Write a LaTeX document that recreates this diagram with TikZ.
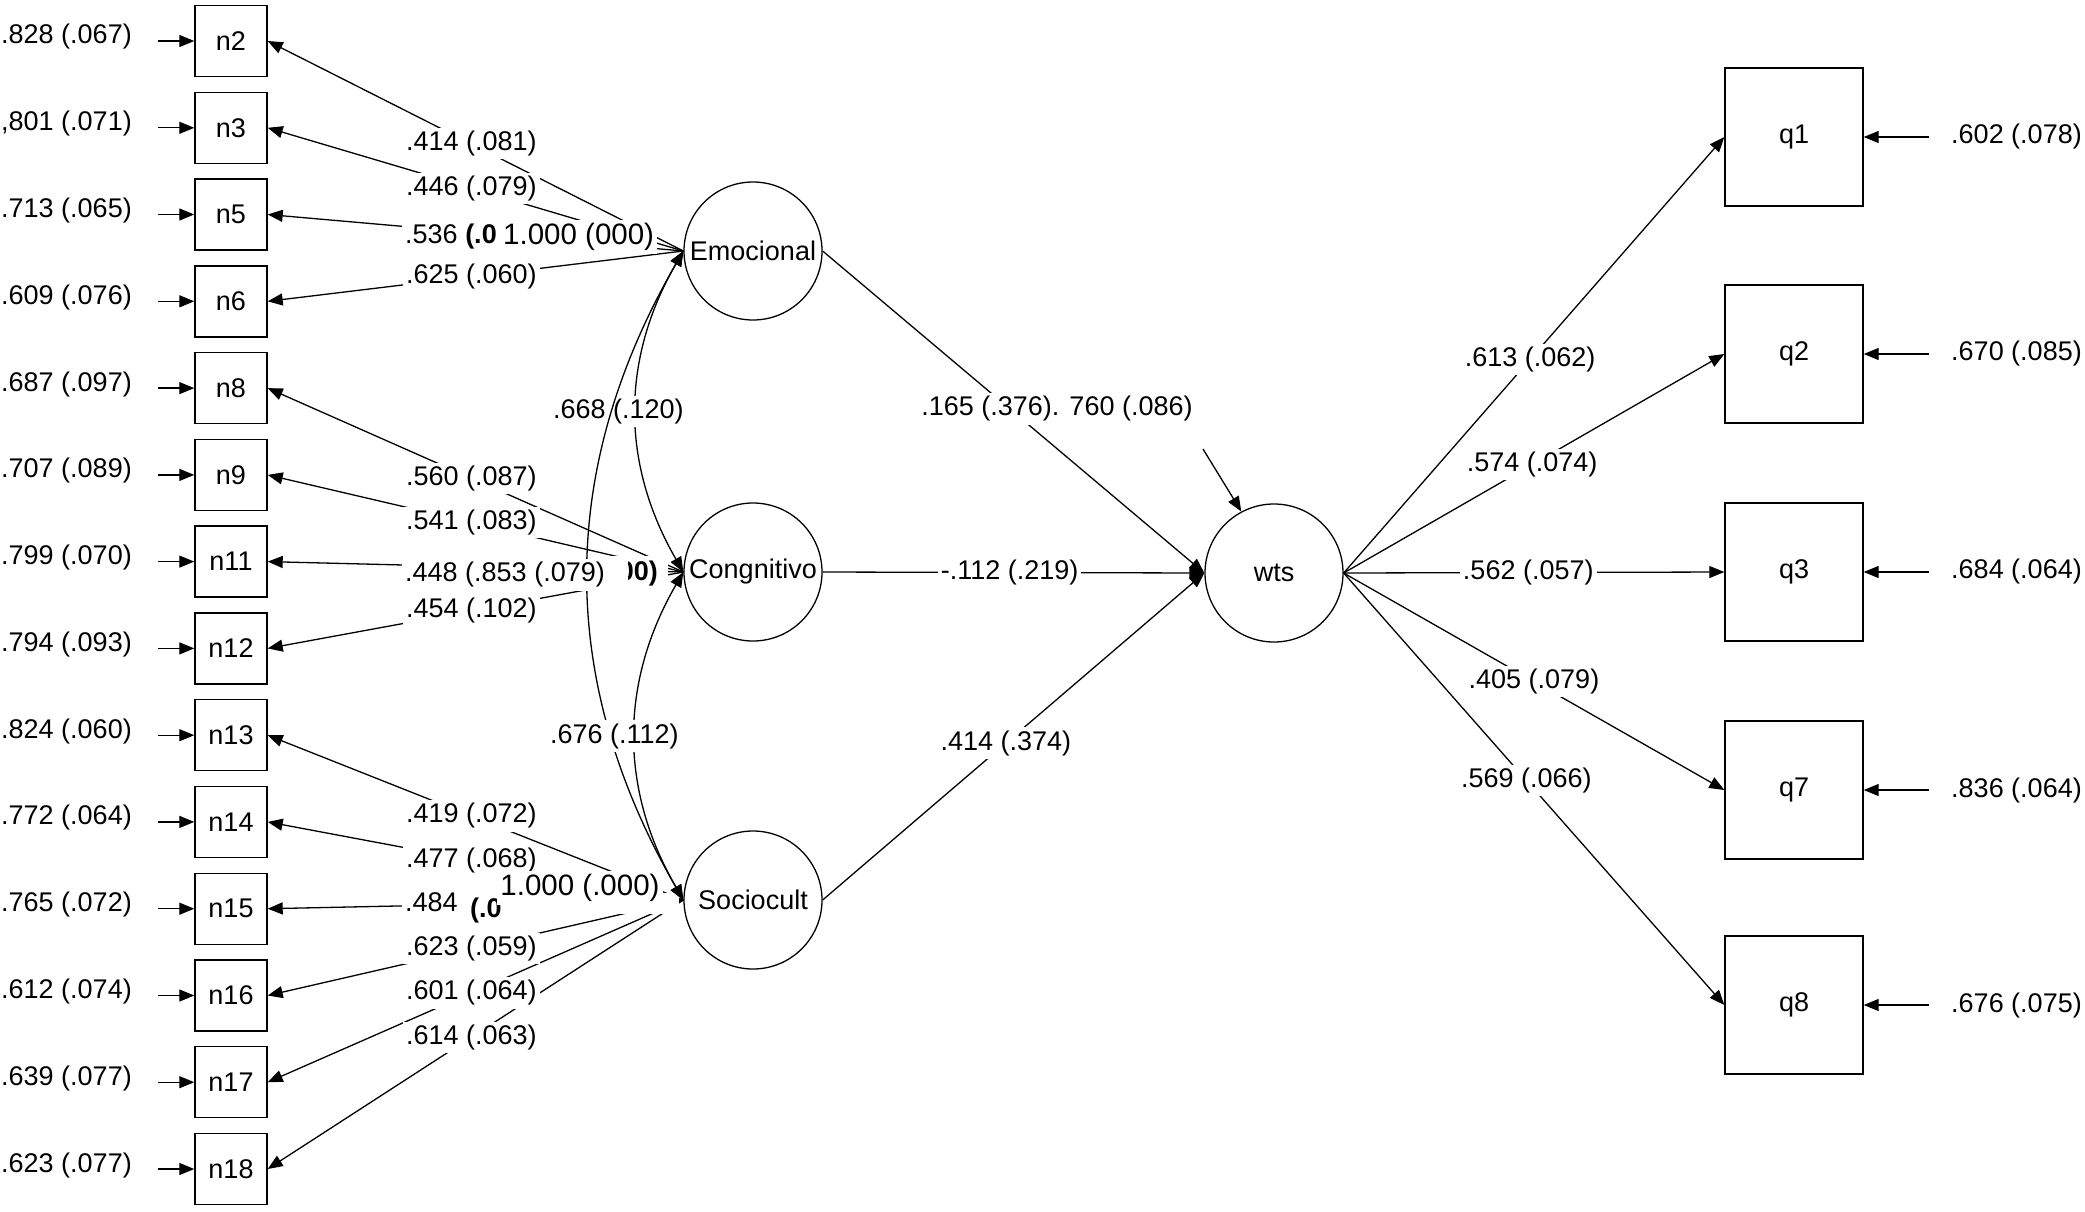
\documentclass[tikz,border=0pt]{standalone}
\usepackage{fontspec}
\setmainfont{Liberation Sans}
\usetikzlibrary{arrows.meta}
\begin{document}
\begin{tikzpicture}[x=1pt,y=-1pt,
  font=\fontsize{27}{32}\selectfont,
  >={Triangle[length=15pt,width=12pt]},
  obs/.style={draw,line width=1.4pt,minimum width=72pt,minimum height=71pt,inner sep=0pt},
  qobs/.style={draw,line width=1.4pt,minimum width=138pt,minimum height=138pt,inner sep=0pt},
  lat/.style={draw,circle,line width=1.3pt,minimum size=138pt,inner sep=0pt},
  arr/.style={line width=1.3pt,->},
  dbl/.style={line width=1.3pt,<->},
  lab/.style={fill=white,inner sep=3pt},
  big/.style={font=\fontsize{29.5}{34}\selectfont},
]
\fill[white] (0,0) rectangle (2085,1211);
\useasboundingbox (0,0) rectangle (2085,1211);

% observed indicators (left)
\foreach \n/\y/\e in {n2/41/{.828 (.067)}, n3/127.8/{,801 (.071)}, n5/214.5/{.713 (.065)}, n6/301.3/{.609 (.076)}, n8/388.1/{.687 (.097)}, n9/474.9/{.707 (.089)}, n11/561.6/{.799 (.070)}, n12/648.4/{.794 (.093)}, n13/735.2/{.824 (.060)}, n14/821.9/{.772 (.064)}, n15/908.7/{.765 (.072)}, n16/995.5/{.612 (.074)}, n17/1082.2/{.639 (.077)}, n18/1169/{.623 (.077)}}{
  \node[obs] (\n) at (231,\y) {\n};
  \node[anchor=east,inner sep=0pt] (e\n) at (132,\y-4) {\e};
  \coordinate (r\n) at (158,\y);
  \draw[arr] (r\n) -- (\n.west);
}

% observed indicators (right)
\foreach \n/\y/\e in {q1/137/{.602 (.078)}, q2/354/{.670 (.085)}, q3/572/{.684 (.064)}, q7/790/{.836 (.064)}, q8/1005/{.676 (.075)}}{
  \node[qobs] (\n) at (1794,\y) {\n};
  \coordinate (r\n) at (1929,\y);
  \node[anchor=west,inner sep=0pt] (e\n) at (1951,\y) {\e};
  \draw[arr] (r\n) -- (\n.east);
}

% latent variables
\node[lat] (emo) at (753,251) {Emocional};
\node[lat] (cong) at (753,572) {Congnitivo};
\node[lat] (soc) at (753,900) {Sociocult};
\node[lat] (wts) at (1274,573) {wts};

% loadings
\foreach \n in {n2,n3,n5,n6} \draw[arr] (emo.west) -- (\n.east);
\foreach \n in {n8,n9,n11,n12} \draw[arr] (cong.west) -- (\n.east);
\foreach \n in {n13,n14,n15,n16,n17,n18} \draw[arr] (soc.west) -- (\n.east);

% hidden (overlapped) label areas
\fill[white] (600,556) rectangle (668,592);
\fill[white] (457,893) rectangle (679,914);

% structural paths
\draw[arr] (emo.east) -- (wts.west);
\draw[arr] (cong.east) -- node[lab,pos=.49]{-.112 (.219)} (wts.west);
\draw[arr] (soc.east) -- node[lab,pos=.48]{.414 (.374)} (wts.west);
\coordinate (rw) at (1203,449);
\draw[arr] (rw) -- (wts.118);
\node[lab] (lw) at (1057,409) {.165 (.376). 760 (.086)};

\draw[arr] (wts.east) -- node[lab,pos=.49]{.613 (.062)} (q1.west);
\draw[arr] (wts.east) -- node[lab,pos=.495]{.574 (.074)} (q2.west);
\draw[arr] (wts.east) -- node[lab,pos=.485]{.562 (.057)} (q3.west);
\draw[arr] (wts.east) -- node[lab,pos=.5]{.405 (.079)} (q7.west);
\draw[arr] (wts.east) -- node[lab,pos=.48]{.569 (.066)} (q8.west);

% covariances
\draw[dbl] (cong.west) to[bend right=30] (soc.west);
\draw[dbl] (emo.west) to[bend right=30] node[lab,pos=.5,xshift=-18pt]{.668 (.120)} (cong.west);
\draw[dbl] (emo.west) to[bend right=30] (soc.west);
\path (cong.west) to[bend right=30] node[lab,pos=.5,xshift=-21pt]{.676 (.112)} (soc.west);

% loading labels: Emocional
\path (emo.west) -- (n2.east) node[lab,pos=.51]{.414 (.081)};
\path (emo.west) -- (n3.east) node[lab,pos=.51]{.446 (.079)};
\path (emo.west) -- (n6.east) node[lab,pos=.51]{.625 (.060)};
\node[lab,anchor=west] (l5) at (402,237) {.536 \textbf{(.0}};
\node[lab,anchor=west,big] (l5b) at (500,237) {1.000 (000)};

% loading labels: Congnitivo
\path (cong.west) -- (n8.east) node[lab,pos=.51]{.560 (.087)};
\path (cong.west) -- (n9.east) node[lab,pos=.51]{.541 (.083)};
\path (cong.west) -- (n12.east) node[lab,pos=.51]{.454 (.102)};
\node[lab,anchor=west] (l11) at (402,575) {.448 (.853 (.079)};
\begin{scope}
  \clip (628,540) rectangle (700,610);
  \node[anchor=east,inner sep=0pt] (l11b) at (658,574) {\textbf{00)}};
\end{scope}

% loading labels: Sociocult
\path (soc.west) -- (n13.east) node[lab,pos=.51]{.419 (.072)};
\path (soc.west) -- (n14.east) node[lab,pos=.51]{.477 (.068)};
\path (soc.west) -- (n16.east) node[lab,pos=.51]{.623 (.059)};
\path (soc.west) -- (n17.east) node[lab,pos=.51]{.601 (.064)};
\path (soc.west) -- (n18.east) node[lab,pos=.51]{.614 (.063)};
\node[lab,anchor=west] (l15) at (402,902) {.484};
\node[fill=white,anchor=west,inner sep=0pt] (l15b) at (470,911) {\textbf{(.0}};
\node[lab,big] (l15c) at (580,888) {1.000 (.000)};
\end{tikzpicture}
\end{document}
